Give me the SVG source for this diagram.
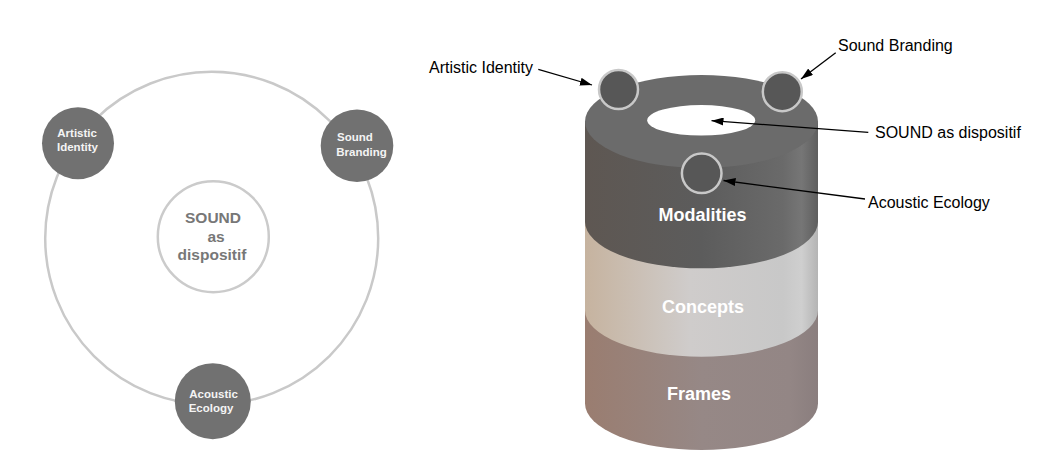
<svg xmlns="http://www.w3.org/2000/svg" width="1053" height="466" viewBox="0 0 1053 466">
<style>
.lbl{font-family:"Liberation Sans",Arial,sans-serif;font-size:16px;fill:#000}
.sm{font-family:"Liberation Sans",Arial,sans-serif;font-size:11.5px;font-weight:bold;fill:#f4f4f4}
.ctr{font-family:"Liberation Sans",Arial,sans-serif;font-size:15.5px;font-weight:bold;fill:#777;text-anchor:middle}
.band{font-family:"Liberation Sans",Arial,sans-serif;font-size:18px;font-weight:bold;fill:#fff;text-anchor:middle}
.ring{fill:none;stroke:#c9c9c9;stroke-width:2.5}
.dot{fill:#717171}
.knob{fill:#575757;stroke:#c8c8c8;stroke-width:2.5}
.arr{stroke:#000;stroke-width:1.3;fill:none;marker-end:url(#ah)}
</style>
<defs>
<marker id="ah" viewBox="0 0 12 8" refX="12" refY="4" markerWidth="12" markerHeight="8" markerUnits="userSpaceOnUse" orient="auto">
<path d="M0,0 L12,4 L0,8 Z" fill="#000"/>
</marker>
<linearGradient id="gMod" x1="0" x2="1" y1="0" y2="0">
<stop offset="0" stop-color="#5e5752"/>
<stop offset="0.5" stop-color="#5c5c5c"/>
<stop offset="0.85" stop-color="#6a6a6a"/>
<stop offset="0.93" stop-color="#767676"/>
<stop offset="1" stop-color="#5e5e5e"/>
</linearGradient>
<linearGradient id="gCon" x1="0" x2="1" y1="0" y2="0">
<stop offset="0" stop-color="#c6b39f"/>
<stop offset="0.45" stop-color="#cfcccb"/>
<stop offset="0.85" stop-color="#c8c8c8"/>
<stop offset="0.93" stop-color="#cfcfcf"/>
<stop offset="1" stop-color="#b4b4b4"/>
</linearGradient>
<linearGradient id="gFra" x1="0" x2="1" y1="0" y2="0">
<stop offset="0" stop-color="#9a7d70"/>
<stop offset="0.5" stop-color="#968886"/>
<stop offset="0.88" stop-color="#938685"/>
<stop offset="1" stop-color="#8a7e7e"/>
</linearGradient>
</defs>
<rect width="1053" height="466" fill="#fff"/>

<!-- Left diagram -->
<g id="orbit">
<circle class="ring" cx="211.7" cy="238.3" r="166.5"/>
</g>
<g id="sound-center">
<circle cx="213.3" cy="236.7" r="55.5" fill="#fff" stroke="#cbcbcb" stroke-width="2.5"/>
<text class="ctr" x="213" y="223">SOUND</text>
<text class="ctr" x="216" y="241.5">as</text>
<text class="ctr" x="212" y="259.5">dispositif</text>
</g>
<g id="artistic-identity-node">
<circle class="dot" cx="78" cy="143.3" r="36"/>
<text class="sm" x="57.3" y="136.7">Artistic</text>
<text class="sm" x="57" y="150.7">Identity</text>
</g>
<g id="sound-branding-node">
<circle class="dot" cx="357" cy="145.8" r="36.3"/>
<text class="sm" x="337" y="141.3">Sound</text>
<text class="sm" x="336.3" y="155.7">Branding</text>
</g>
<g id="acoustic-ecology-node">
<circle class="dot" cx="212.8" cy="401.2" r="38"/>
<text class="sm" x="189.3" y="398">Acoustic</text>
<text class="sm" x="188.7" y="412">Ecology</text>
</g>

<!-- Right diagram: cylinder -->
<g id="frames">
<path d="M585,310 L585,403.5 A116.5,46.5 0 0 0 818,403.5 L818,310 Z" fill="url(#gFra)"/>
<text class="band" x="699" y="400">Frames</text>
</g>
<g id="concepts">
<path d="M585,221.8 L585,310.2 A116.5,46.5 0 0 0 818,310.2 L818,221.8 Z" fill="url(#gCon)"/>
<text class="band" x="703" y="312.5">Concepts</text>
</g>
<g id="modalities">
<path d="M585,121.5 L585,221.8 A116.5,46.5 0 0 0 818,221.8 L818,121.5 Z" fill="url(#gMod)"/>
<ellipse cx="701.5" cy="121.5" rx="116.5" ry="46.5" fill="#6b6b6b"/>
<ellipse id="sound-hole" cx="701.2" cy="120.3" rx="54" ry="15.3" fill="#fff"/>
<text class="band" x="702.5" y="220.5">Modalities</text>
</g>
<g id="knob-artistic"><circle class="knob" cx="618.5" cy="89.5" r="19.5"/></g>
<g id="knob-branding"><circle class="knob" cx="782.3" cy="91.7" r="19.5"/></g>
<g id="knob-acoustic"><circle class="knob" cx="701.7" cy="173.3" r="19.8"/></g>

<g id="labels">
<text class="lbl" x="429" y="73">Artistic Identity</text>
<text class="lbl" x="838" y="50.5">Sound Branding</text>
<text class="lbl" x="875" y="137.5">SOUND as dispositif</text>
<text class="lbl" x="868" y="207.5">Acoustic Ecology</text>
</g>
<g id="connectors">
<line class="arr" x1="538.3" y1="69.3" x2="592" y2="85"/>
<line class="arr" x1="835.7" y1="52.7" x2="801" y2="79"/>
<line class="arr" x1="868.3" y1="132.3" x2="711.5" y2="120.7"/>
<line class="arr" x1="865" y1="199" x2="723.5" y2="180.5"/>
</g>
</svg>
